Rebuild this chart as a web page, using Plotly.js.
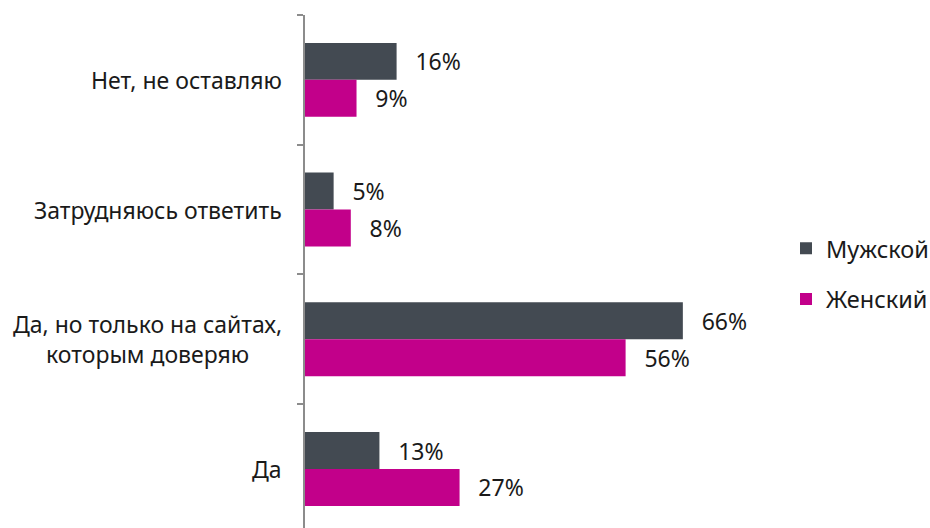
<!DOCTYPE html>
<html>
<head>
<meta charset="utf-8">
<script src="https://cdn.plot.ly/plotly-3.0.1.min.js"></script>
<style>html,body{margin:0;padding:0;background:#fff;}#chart{width:930px;height:528px;}</style>
</head>
<body>
<div id="chart"></div>
<script>
const categories = ["Нет, не оставляю", "Затрудняюсь ответить", "Да, но только на сайтах,<br>которым доверяю", "Да"];
const seriesNames = ["Мужской", "Женский"];
const maleValues = [16, 5, 66, 13];
const femaleValues = [9, 8, 56, 27];
const colors = ["#434a52", "#c2008a"];

const FONT = "Noto Sans, Open Sans, sans-serif";
const NB = "\u00a0\u00a0\u2009";

function barTrace(name, values, color, group) {
  return {
    type: "bar",
    orientation: "h",
    name: name,
    y: categories,
    x: values,
    marker: {color: color},
    text: values.map(v => NB + v + "%"),
    textposition: "outside",
    cliponaxis: false,
    textfont: {family: FONT, size: 23, color: "#1a1a1a"},
    hoverinfo: "skip",
    legendgroup: group
  };
}

const data = [
  barTrace(seriesNames[0], maleValues, colors[0], "m"),
  barTrace(seriesNames[1], femaleValues, colors[1], "f")
];

const annotations = categories.map(c => ({
  x: 0, xref: "paper", xanchor: "right", xshift: -21,
  y: c, yref: "y", yanchor: "middle",
  text: c, showarrow: false, align: "center",
  font: {family: FONT, size: 23, color: "#1a1a1a"}
}));

const layout = {
  width: 930, height: 528,
  margin: {l: 305, r: 167, t: 15, b: 0, pad: 0, autoexpand: false},
  paper_bgcolor: "#fff", plot_bgcolor: "#fff",
  barmode: "group",
  bargap: 0.43,
  bargroupgap: 0,
  font: {family: FONT, size: 23, color: "#1a1a1a"},
  xaxis: {range: [0, 80], showgrid: false, zeroline: false, showticklabels: false, showline: false, ticks: "", fixedrange: true},
  yaxis: {
    type: "category",
    range: [3.455, -0.5],
    showgrid: false, zeroline: false,
    showline: true, linecolor: "#8c8c8c", linewidth: 2,
    ticks: "outside", tickson: "boundaries", ticklen: 6, tickwidth: 2, tickcolor: "#8c8c8c",
    showticklabels: false, fixedrange: true
  },
  showlegend: true,
  legend: {
    x: (786 - 305) / 458, xanchor: "left", y: 0.495, yanchor: "middle",
    traceorder: "grouped", tracegroupgap: 17,
    font: {family: FONT, size: 23.5, color: "#1a1a1a"},
    bgcolor: "rgba(0,0,0,0)"
  },
  annotations: annotations
};

Plotly.newPlot("chart", data, layout, {displayModeBar: false, staticPlot: true});
</script>
</body>
</html>
